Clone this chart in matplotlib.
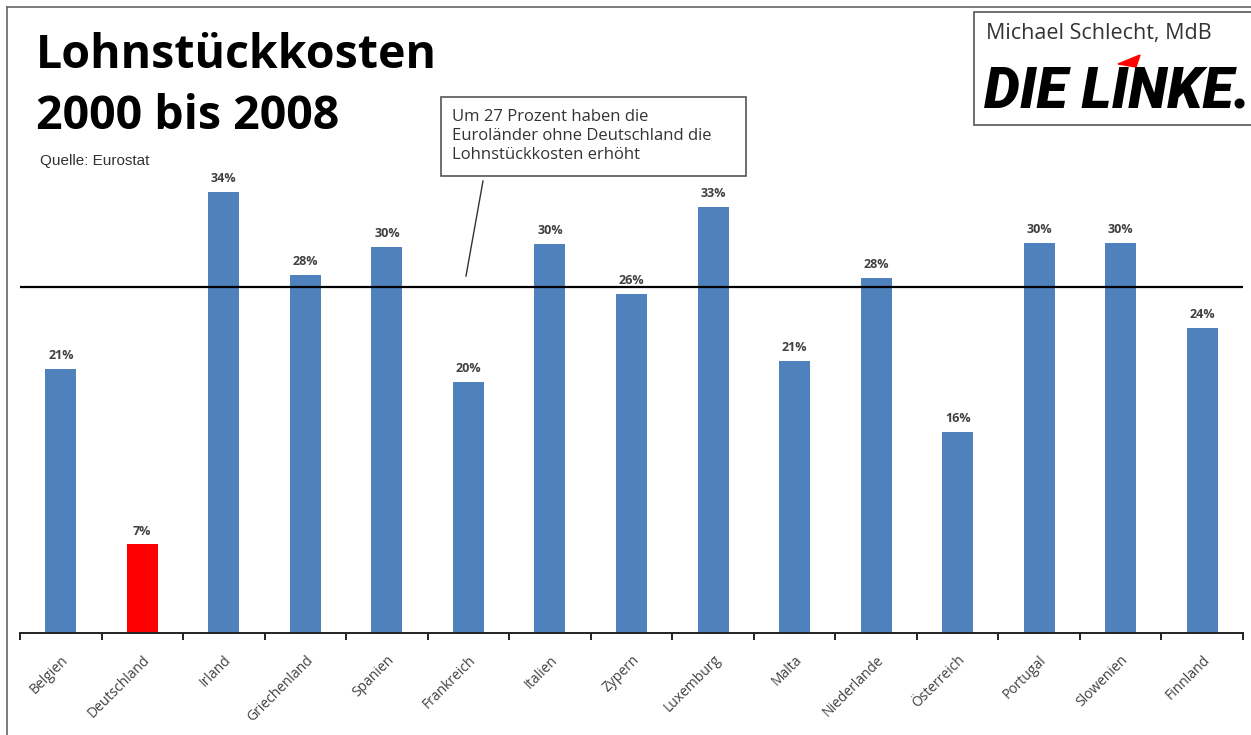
import matplotlib
matplotlib.use("Agg")
import matplotlib.pyplot as plt
from matplotlib.patches import Rectangle, Polygon
from matplotlib.lines import Line2D
import numpy as np

# ---- data ----
countries = ["Belgien", "Deutschland", "Irland", "Griechenland", "Spanien",
             "Frankreich", "Italien", "Zypern", "Luxemburg", "Malta",
             "Niederlande", "Österreich", "Portugal", "Slowenien", "Finnland"]
values = [20.6, 6.9, 34.4, 27.9, 30.1, 19.6, 30.3, 26.4, 33.2, 21.2,
          27.7, 15.7, 30.4, 30.4, 23.8]
value_labels = ["21%", "7%", "34%", "28%", "30%", "20%", "30%", "26%", "33%",
                "21%", "28%", "16%", "30%", "30%", "24%"]
euro_avg = 27.0
highlight = "Deutschland"

BLUE = "#4F81BD"
RED = "#FF0000"
TXT = "#404040"
FONT = ["Open Sans", "DejaVu Sans"]

fig = plt.figure(figsize=(12.51, 7.35), dpi=100)
W, H = 1251, 735

def fx(px):
    return px / W

def fy(py):
    return 1 - py / H

ax = fig.add_axes([fx(20), fy(633), fx(1243) - fx(20), fy(150) - fy(633)])
x = np.arange(len(countries))
colors = [RED if c == highlight else BLUE for c in countries]
ax.bar(x, values, width=0.38, color=colors, zorder=2)
ax.set_xlim(-0.5, len(countries) - 0.5)
ax.set_ylim(0, (633 - 150) / 12.83)
ax.axhline(euro_avg, color="black", lw=1.6, zorder=3)

for xi, v, lab in zip(x, values, value_labels):
    ax.annotate(lab, (xi, v), xytext=(0, 5), textcoords="offset points",
                ha="center", va="bottom", fontsize=9, fontweight="bold",
                color=TXT, family=FONT)

for s in ["top", "right", "left"]:
    ax.spines[s].set_visible(False)
ax.spines["bottom"].set_color("#222222")
ax.spines["bottom"].set_linewidth(1.4)
ax.set_yticks([])
ax.set_xticks(np.arange(-0.5, len(countries)), minor=False)
ax.set_xticklabels([])
ax.tick_params(axis="x", which="major", length=5, width=1.4, color="#222222", direction="out")
ax.set_xticks(x, minor=True)
ax.set_xticklabels(countries, minor=True, rotation=45, ha="right",
                   rotation_mode="anchor", fontsize=10, color=TXT,
                   family=FONT)
ax.tick_params(axis="x", which="minor", length=0, pad=14)

# ---- titles ----
fig.text(fx(36), fy(68), "Lohnstückkosten", fontsize=33.5, fontweight="bold",
         family=FONT, va="baseline", ha="left", color="black")
fig.text(fx(36), fy(129), "2000 bis 2008", fontsize=33.5, fontweight="bold",
         family=FONT, va="baseline", ha="left", color="black")
fig.text(fx(40), fy(165), "Quelle: Eurostat", fontsize=11, family=["Liberation Sans", "DejaVu Sans"],
         va="baseline", ha="left", color="#333333")

# ---- annotation box ----
fig.add_artist(Rectangle((fx(441), fy(176)), fx(746) - fx(441), fy(97) - fy(176),
                         transform=fig.transFigure, fill=False, edgecolor="#555555", lw=1.2))
fig.text(fx(452), fy(136), "Um 27 Prozent haben die\nEuroländer ohne Deutschland die\nLohnstückkosten erhöht",
         fontsize=12, family=FONT, va="center", ha="left",
         color="#333333", linespacing=1.22)
fig.add_artist(Line2D([fx(483), fx(466)], [fy(181), fy(276)], transform=fig.transFigure,
                      color="#333333", lw=1.0))

# ---- logo box ----
fig.add_artist(Rectangle((fx(974), fy(125)), fx(1260) - fx(974), fy(12) - fy(125),
                         transform=fig.transFigure, fill=True, facecolor="white",
                         edgecolor="#555555", lw=1.2))
fig.text(fx(986), fy(33), "Michael Schlecht, MdB", fontsize=15.5,
         family=FONT, va="center", ha="left", color="#333333")
fig.text(fx(984), fy(107), "DIE LINKE.", fontsize=41, fontweight="black", style="italic",
         family=["Roboto", "DejaVu Sans"], va="baseline", ha="left", color="black")
fig.add_artist(Polygon([(fx(1118), fy(64)), (fx(1140), fy(55)), (fx(1136), fy(67))],
                       closed=True, transform=fig.transFigure, color=RED))

# ---- outer border ----
fig.add_artist(Line2D([fx(7), fx(7)], [0, fy(7)], transform=fig.transFigure, color="#666666", lw=1.2))
fig.add_artist(Line2D([fx(7), 1], [fy(7), fy(7)], transform=fig.transFigure, color="#666666", lw=1.2))

fig.savefig("out.png", dpi=100)
